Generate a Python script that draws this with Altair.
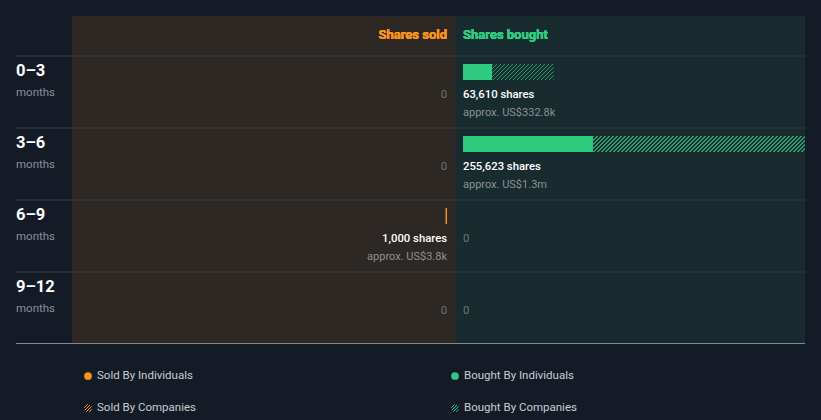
import altair as alt
import pandas as pd

# ---------------- data ----------------
periods = ["0–3", "3–6", "6–9", "9–12"]
sold_individuals = [0, 0, 1000, 0]
sold_total = [0, 0, 1000, 0]
bought_individuals = [20400, 91200, 0, 0]
bought_total = [63610, 255623, 0, 0]
sold_value_labels = ["", "", "approx. US$3.8k", ""]
bought_value_labels = ["approx. US$332.8k", "approx. US$1.3m", "", ""]
legend_labels = ["Sold By Individuals", "Bought By Individuals",
                 "Sold By Companies", "Bought By Companies"]

# ---------------- style ----------------
BG = "#151b26"
SOLD_BG = "#2d2823"
BOUGHT_BG = "#182b2e"
ORANGE = "#f7941d"
GREEN = "#2ecb80"
GREEN_HATCH = "#2a9a68"
GRID = "#383b3c"
FONT = "Roboto"

SCALE_MAX = 240000
B_RANGE = [463, 805]
S_RANGE = [447, 105]
BAR_H = 16


def fmt_shares(v):
    return f"{v:,} shares" if v > 0 else "0"


df = pd.DataFrame({
    "period": periods,
    "sold_ind": sold_individuals,
    "sold_total": sold_total,
    "bought_ind": bought_individuals,
    "bought_total": bought_total,
    "sold_label": [fmt_shares(v) for v in sold_total],
    "bought_label": [fmt_shares(v) for v in bought_total],
    "sold_value": sold_value_labels,
    "bought_value": bought_value_labels,
    "unit": ["months"] * len(periods),
})

yscale = alt.Scale(domain=periods, range=[56, 344], paddingInner=0, paddingOuter=0)
Y = alt.Y("period:N", scale=yscale, axis=None)
bx = alt.Scale(domain=[0, SCALE_MAX], range=B_RANGE, clamp=True)
sx = alt.Scale(domain=[0, SCALE_MAX], range=S_RANGE, clamp=True)

base = alt.Chart(df)


def hatch(width_px, height_px, color, period=4.0, stripe=1.8):
    span = width_px + height_px
    ratio = height_px / width_px
    k = (1 + ratio) / (1 + ratio * ratio)
    stops = []
    s = 0.0
    clear = "rgba(0,0,0,0)"
    while s < span:
        a = s / span
        b = min((s + stripe) / span, 1)
        c = min((s + period) / span, 1)
        stops += [
            {"offset": a, "color": color},
            {"offset": b, "color": color},
            {"offset": b, "color": clear},
            {"offset": c, "color": clear},
        ]
        s += period
    return {"gradient": "linear", "x1": 0, "y1": 0, "x2": k, "y2": k * ratio,
            "stops": stops}


layers = []

# panels
layers.append(alt.Chart(df).mark_rect(color=SOLD_BG).encode(
    x=alt.value(72), x2=alt.value(455), y=alt.value(16), y2=alt.value(343)))
layers.append(alt.Chart(df).mark_rect(color=BOUGHT_BG).encode(
    x=alt.value(455), x2=alt.value(805), y=alt.value(16), y2=alt.value(343)))

# row separators
layers.append(base.mark_rule(color=GRID, strokeWidth=1).encode(
    y=alt.Y("period:N", scale=yscale, axis=None, bandPosition=0),
    x=alt.value(16), x2=alt.value(805)))
layers.append(alt.Chart(df).mark_rule(color="#7d8a90", strokeWidth=1).encode(
    y=alt.value(343.5), x=alt.value(16), x2=alt.value(805)))

# headers
layers.append(alt.Chart(df).mark_text(text="Shares sold", color=ORANGE, font=FONT,
                                      fontSize=13, fontWeight="bold", align="right",
                                      baseline="middle").encode(
    x=alt.value(447), y=alt.value(35)))
layers.append(alt.Chart(df).mark_text(text="Shares bought", color=GREEN, font=FONT,
                                      fontSize=13, fontWeight="bold", align="left",
                                      baseline="middle").encode(
    x=alt.value(463), y=alt.value(35)))

# row labels
layers.append(base.mark_text(font=FONT, fontSize=16.5, fontWeight="bold", color="#ffffff",
                             align="left", baseline="middle", yOffset=-21).encode(
    y=Y, x=alt.value(16), text="period:N"))
layers.append(base.mark_text(font=FONT, fontSize=11.5, color="#8b8f96",
                             align="left", baseline="middle", yOffset=1).encode(
    y=Y, x=alt.value(16), text="unit:N"))

# bars
layers.append(base.transform_filter("datum.sold_ind > 0").mark_bar(
    size=BAR_H, yOffset=-20, color=ORANGE).encode(
    y=Y, x=alt.X("sold_ind:Q", scale=sx, axis=None), x2=alt.datum(0)))
layers.append(base.transform_filter("datum.bought_ind > 0").mark_bar(
    size=BAR_H, yOffset=-20, color=GREEN).encode(
    y=Y, x=alt.X("bought_ind:Q", scale=bx, axis=None), x2=alt.datum(0)))

span_px = B_RANGE[1] - B_RANGE[0]
for p, ind, tot in zip(periods, bought_individuals, bought_total):
    comp = tot - ind
    if comp <= 0:
        continue
    w = (min(tot, SCALE_MAX) - ind) / SCALE_MAX * span_px
    layers.append(base.transform_filter(alt.datum.period == p).mark_bar(
        size=BAR_H, yOffset=-20, fill=hatch(w, BAR_H, GREEN_HATCH)).encode(
        y=Y, x=alt.X("bought_ind:Q", scale=bx, axis=None),
        x2=alt.X2("bought_total:Q")))

# shares labels
layers.append(base.transform_filter("datum.sold_total > 0").mark_text(
    font=FONT, fontSize=11.3, fontWeight=500, color="#ffffff", align="right",
    baseline="middle", yOffset=3).encode(y=Y, x=alt.value(447), text="sold_label:N"))
layers.append(base.transform_filter("datum.sold_total == 0").mark_text(
    font=FONT, fontSize=11.3, color="#6e7073", align="right",
    baseline="middle", yOffset=3).encode(y=Y, x=alt.value(447), text="sold_label:N"))
layers.append(base.mark_text(
    font=FONT, fontSize=11, color="#8d9194", align="right",
    baseline="middle", yOffset=21).encode(y=Y, x=alt.value(447), text="sold_value:N"))

layers.append(base.transform_filter("datum.bought_total > 0").mark_text(
    font=FONT, fontSize=11.3, fontWeight=500, color="#ffffff", align="left",
    baseline="middle", yOffset=3).encode(y=Y, x=alt.value(463), text="bought_label:N"))
layers.append(base.transform_filter("datum.bought_total == 0").mark_text(
    font=FONT, fontSize=11.3, color="#6e7a7a", align="left",
    baseline="middle", yOffset=3).encode(y=Y, x=alt.value(463), text="bought_label:N"))
layers.append(base.mark_text(
    font=FONT, fontSize=11, color="#8d9194", align="left",
    baseline="middle", yOffset=21).encode(y=Y, x=alt.value(463), text="bought_value:N"))

# legend
legend_pos = [(88, 376), (455, 376), (88, 408), (455, 408)]
legend_fill = [ORANGE, GREEN, hatch(9, 9, ORANGE, period=3.5, stripe=1.6),
               hatch(9, 9, GREEN, period=3.5, stripe=1.6)]
for label, (lx, ly), fill in zip(legend_labels, legend_pos, legend_fill):
    ldf = pd.DataFrame({"label": [label]})
    layers.append(alt.Chart(ldf).mark_point(shape="circle", filled=True, size=60,
                                             fill=fill, opacity=1, strokeWidth=0).encode(
        x=alt.value(lx), y=alt.value(ly)))
    layers.append(alt.Chart(ldf).mark_text(font=FONT, fontSize=11.5, color="#c9ccd1",
                                            align="left", baseline="middle").encode(
        x=alt.value(lx + 9), y=alt.value(ly), text="label:N"))

chart = alt.layer(*layers).resolve_scale(x="independent").properties(
    width=821, height=420, background=BG, padding=0,
    autosize=alt.AutoSizeParams(type="none"),
).configure_view(stroke=None)

chart.save("out.html", embed_options={"renderer": "svg", "actions": False})
